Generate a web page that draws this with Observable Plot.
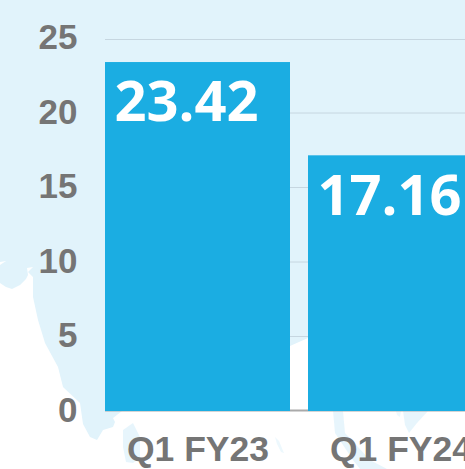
<!DOCTYPE html>
<html>
<head>
<meta charset="utf-8">
<script src="https://cdn.jsdelivr.net/npm/d3@7"></script>
<script src="https://cdn.jsdelivr.net/npm/@observablehq/plot@0.6"></script>
<style>
html,body{margin:0;padding:0;background:#fff;overflow:hidden;width:465px;height:469px}
#wrap{position:relative;width:465px;height:469px;overflow:hidden}
#map{position:absolute;left:0;top:0}
#chart{position:absolute;left:0;top:0}
#chart svg{background:transparent;max-width:none}
</style>
</head>
<body>
<div id="wrap">
<svg id="map" width="465" height="469" viewBox="0 0 465 469">
<g fill="#e1f3fb">
<path d="M0 0H465V411H122L113 418L115 422L113 427L103 430L97 440L90 437L83 424L80 403L63 387L58 367L45 343L38 320L33 297L33 277L28 272L33 267L27 268L28 275L26 279L20 285L12 289L6 287L0 283V265L6 261L0 262Z"/>
<path d="M123 430L133 423L140 437L140 458L133 463L126 462L123 447Z" opacity="0.8"/>
<path d="M333 411H343L345 433L370 460L387 469H360L353 460L335 433Z" opacity="0.8"/>
<path d="M403 411H428L417 423L409 433L405 425Z" opacity="0.8"/>
<path d="M396 411H401L400 417L397 415Z" opacity="0.6"/>
<path d="M275 437L279 441L284 453L281 452L277 444Z" opacity="0.6"/>
</g>
<path d="M290 346L308 338V411H290Z" fill="#fff"/>
</svg>
<div id="chart"></div>
</div>
<script>
const quarters = ["Q1 FY23", "Q1 FY24"];
const revenue = [23.42, 17.16];
const yTicks = [0, 5, 10, 15, 20, 25];
const gridTicks = [5, 10, 15, 20];
const topTick = [25];
const baseline = [0];
const rows = quarters.map((q, i) => ({q, v: revenue[i], label: revenue[i].toFixed(2)}));

const chart = Plot.plot({
  width: 465, height: 469,
  marginTop: 0, marginRight: 0, marginBottom: 0, marginLeft: 105,
  style: {background: "transparent", overflow: "hidden"},
  x: {type: "band", domain: quarters, range: [87, 511], padding: 18 / 203, label: null},
  y: {domain: [0, 25], range: [411, 38.5], label: null},
  marks: [
    Plot.ruleY(gridTicks, {stroke: "#c6d6e0", strokeWidth: 1, dy: -0.5}),
    Plot.ruleY(topTick, {stroke: "#c6d6e0", strokeWidth: 1, dy: 0.5}),
    Plot.ruleY(baseline, {stroke: "#aaaaaa", strokeWidth: 2, dy: -1}),
    Plot.barY(rows, {x: "q", y: "v", fill: "#1badE2"}),
    Plot.text(rows, {x: "q", y: "v", text: "label", fill: "#fff", textAnchor: "start", lineAnchor: "middle",
      dx: -83.5, dy: 41, fontSize: 56, fontWeight: 700, fontFamily: "'Open Sans'"}),
    Plot.axisY({ticks: yTicks, tickSize: 0, tickPadding: 28, label: null, fill: "#757575", dy: -1,
      fontSize: 35, fontWeight: 700, fontFamily: "'Liberation Sans'"}),
    Plot.axisX({tickSize: 0, tickPadding: 0, label: null, anchor: "bottom", fill: "#757575", dy: -34,
      fontSize: 35.5, fontWeight: 700, fontFamily: "'Liberation Sans'"})
  ]
});
document.getElementById("chart").appendChild(chart);
</script>
</body>
</html>
